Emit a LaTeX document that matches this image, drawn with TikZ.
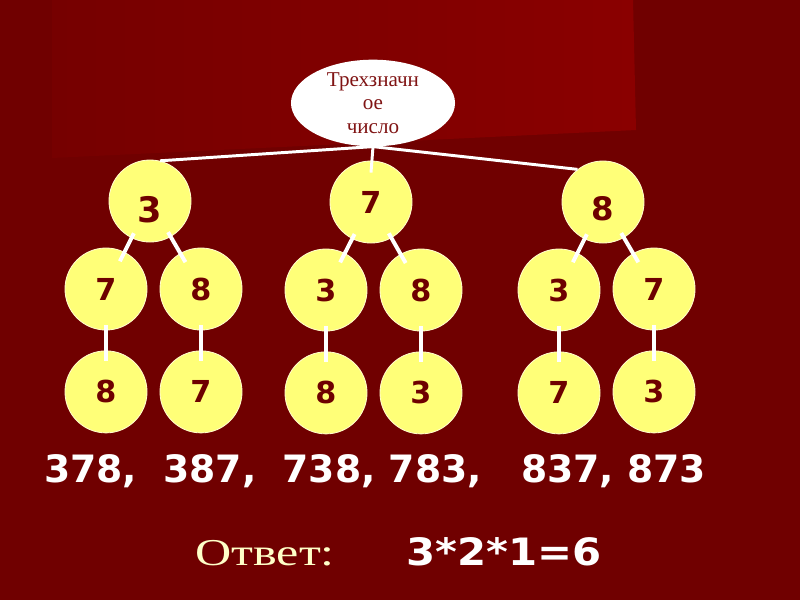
\documentclass[tikz,border=0pt]{standalone}
\usepackage{fontspec}
\setmainfont{Liberation Serif}
\newfontfamily\digitfont{DejaVu Sans}
\newfontfamily\widedigit[FakeStretch=1.11]{DejaVu Sans}
\newfontfamily\wideserif[FakeStretch=1.32]{Liberation Serif}
\usetikzlibrary{shapes.geometric,positioning,calc}

\definecolor{bgred}{HTML}{700000}
\definecolor{midred}{HTML}{760000}
\definecolor{hired}{HTML}{8A0000}
\definecolor{ballyel}{HTML}{FFFF78}
\definecolor{inkred}{HTML}{6E0000}
\definecolor{capred}{HTML}{801414}
\definecolor{pale}{HTML}{FFFFC8}

\begin{document}
\begin{tikzpicture}[
  x=0.025cm, y=-0.025cm,
  every node/.style={align=center},
  %% ─── styles ────────────────────────────────────────────────
  ball/.style={
    circle, draw=yellow!20!white, fill=ballyel, line width=0.6pt,
    minimum size=2.05cm, inner sep=0pt, text=inkred,
    font=\digitfont\bfseries\fontsize{21.5}{22}\selectfont},
  topnode/.style={
    ellipse, fill=white, minimum width=4.1cm, minimum height=1.85cm,
    inner sep=0pt, text=capred, font=\fontsize{15}{16.8}\selectfont},
  link/.style={draw=white, line width=2.8pt, shorten <=0.9cm, shorten >=0.775cm},
  stem/.style={draw=white, line width=2.1pt},
  bignum/.style={text=white, inner sep=0pt,
    font=\digitfont\bfseries\fontsize{26.8}{30}\selectfont}
]

  %% ─── 0. background ─────────────────────────────────────────
  \fill[bgred] (0,0) rectangle (800,600);
  \shade[left color=midred, right color=hired]
    (52,0) -- (633,0) -- (636,130) -- (52,158) -- cycle;

  %% ─── 1. root ───────────────────────────────────────────────
  \node[topnode] (num) at (373,103) {Трехзначн\\ое\\число};

  %% ─── 2. first digit ────────────────────────────────────────
  \node[ball, font=\digitfont\bfseries\fontsize{25}{26}\selectfont,
        text height=31pt, text depth=0pt] (d3) at (150,201) {3};
  \node[ball] (d7) at (371,202) {7};
  \node[ball, font=\digitfont\bfseries\fontsize{23}{24}\selectfont,
        text height=26.6pt, text depth=0pt] (d8) at (603,202) {8};

  %% ─── 3. second digit ───────────────────────────────────────
  \node[ball] (d37) at (106,289) {7};
  \node[ball] (d38) at (201,289) {8};
  \node[ball] (d73) at (326,290) {3};
  \node[ball] (d78) at (421,290) {8};
  \node[ball] (d83) at (559,290) {3};
  \node[ball] (d87) at (654,289) {7};

  %% ─── 4. third digit ────────────────────────────────────────
  \node[ball, below=0.5cm of d37] (d378) {8};
  \node[ball, below=0.5cm of d38] (d387) {7};
  \node[ball, below=0.5cm of d73] (d738) {8};
  \node[ball, below=0.5cm of d78] (d783) {3};
  \node[ball, below=0.5cm of d83] (d837) {7};
  \node[ball, below=0.5cm of d87] (d873) {3};

  %% ─── 5. connections ────────────────────────────────────────
  \draw[stem] (num.south) -- (d3.76);
  \draw[stem] (num.south) -- ([yshift=-0.3cm]d7.north);
  \draw[stem] (num.south) -- (d8.128);

  \foreach \p/\c in {d3/d37, d3/d38, d7/d73, d7/d78, d8/d83, d8/d87,
                     d37/d378, d38/d387, d73/d738, d78/d783, d83/d837, d87/d873} {
    \draw[link] (\p.center) -- (\c.center);
  }

  %% ─── 6. results ────────────────────────────────────────────
  \node[bignum, anchor=base west] (list) at (44,482)
    {378,\ \ 387,\ \ 738, 783,\ \ \ 837, 873};
  \node[anchor=base west, inner sep=0pt, text=pale,
        font=\wideserif\fontsize{27}{30}\selectfont] (ans) at (195,565) {Ответ:};
  \node[bignum, anchor=base west, font=\widedigit\bfseries\fontsize{26.8}{30}\selectfont]
    (prod) at (406,565) {3*2*1=6};

\end{tikzpicture}
\end{document}
